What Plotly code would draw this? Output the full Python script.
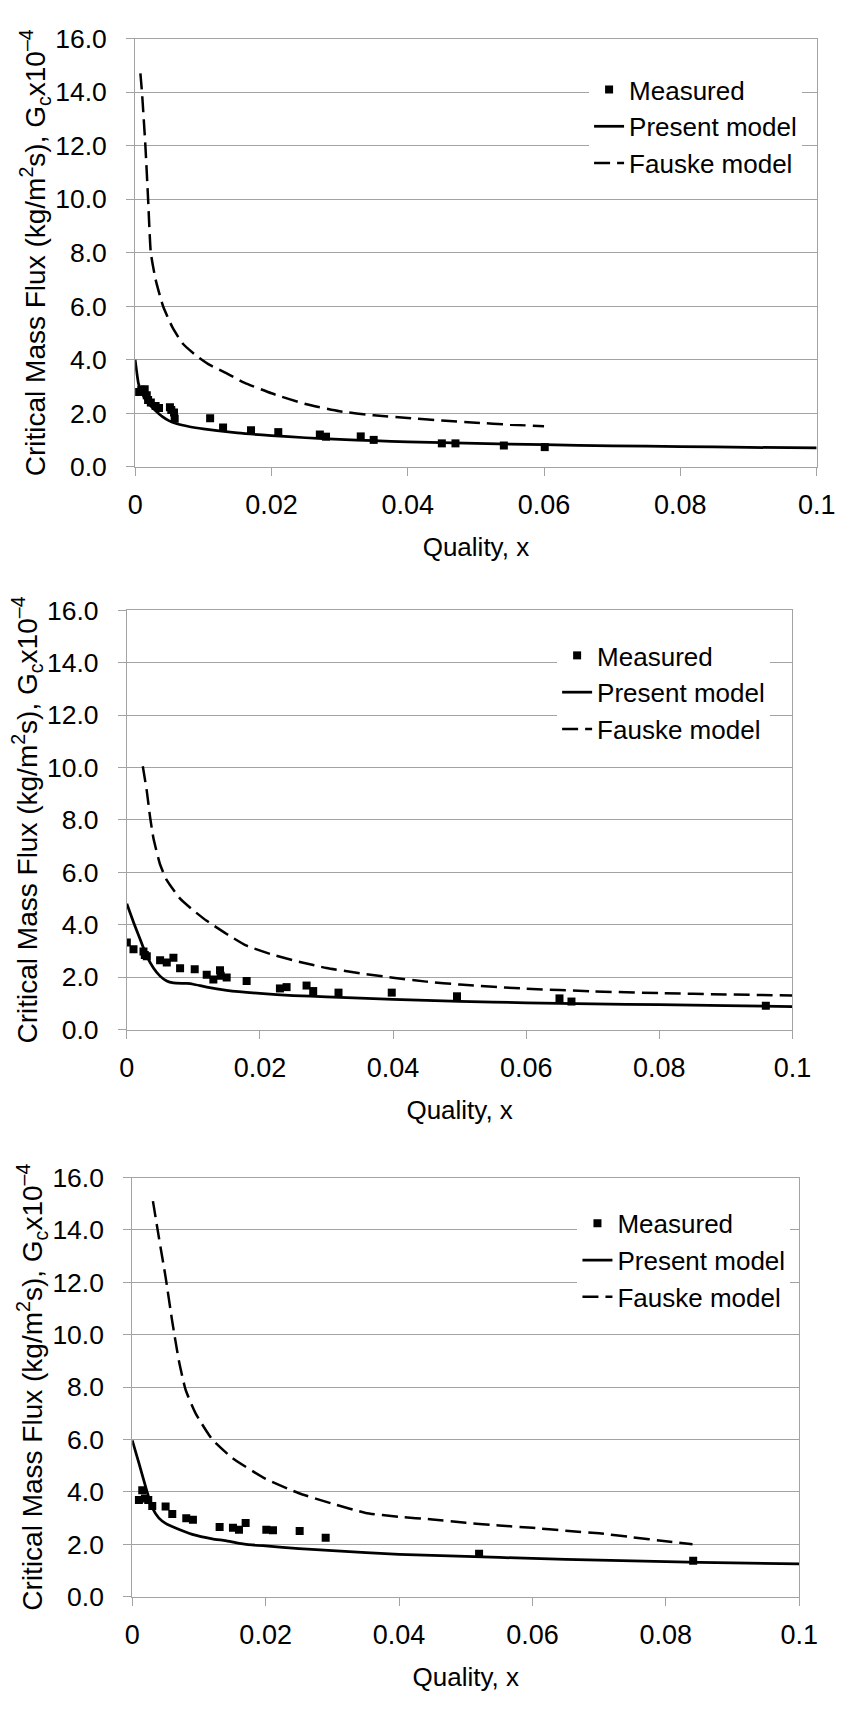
import plotly.graph_objects as go

# ---- Panel 1 ----
meas1_x = [0.0004, 0.0009, 0.0014, 0.0017, 0.0019, 0.0023, 0.0030, 0.0035, 0.0051, 0.0053,
           0.0057, 0.0058, 0.0110, 0.0129, 0.0170, 0.0210, 0.0271, 0.0280, 0.0331, 0.0350,
           0.0450, 0.0470, 0.0541, 0.0601]
meas1_y = [2.80, 2.88, 2.90, 2.68, 2.50, 2.41, 2.28, 2.20, 2.23, 2.13,
           2.03, 1.80, 1.82, 1.47, 1.37, 1.30, 1.21, 1.13, 1.14, 1.01,
           0.88, 0.88, 0.80, 0.74]
present1_x = [0.0, 0.0005, 0.001, 0.002, 0.003, 0.004, 0.005, 0.006, 0.008, 0.010, 0.015,
              0.020, 0.025, 0.030, 0.035, 0.040, 0.050, 0.060, 0.070, 0.080, 0.090, 0.100]
present1_y = [4.00, 3.10, 2.75, 2.35, 2.10, 1.88, 1.72, 1.62, 1.50, 1.42, 1.27,
              1.17, 1.09, 1.03, 0.98, 0.94, 0.88, 0.83, 0.79, 0.76, 0.73, 0.71]
fauske1_x = [0.00077, 0.0010, 0.0015, 0.0019, 0.0023, 0.0030, 0.0041, 0.0055, 0.0070, 0.0090,
             0.0110, 0.0130, 0.0160, 0.0200, 0.0250, 0.0300, 0.0350, 0.0400, 0.0450, 0.0500,
             0.0550, 0.0600]
fauske1_y = [14.7, 14.0, 12.0, 10.0, 8.0, 7.0, 6.0, 5.2, 4.6, 4.15,
             3.80, 3.55, 3.15, 2.75, 2.35, 2.08, 1.93, 1.83, 1.73, 1.65,
             1.58, 1.52]

# ---- Panel 2 ----
meas2_x = [0.0000, 0.0010, 0.0025, 0.0027, 0.0030, 0.0050, 0.0060, 0.0070, 0.0080, 0.0102,
           0.0120, 0.0130, 0.0140, 0.0141, 0.0150, 0.0180, 0.0230, 0.0240, 0.0270, 0.0280,
           0.0318, 0.0398, 0.0496, 0.0650, 0.0668, 0.0960]
meas2_y = [3.32, 3.07, 2.98, 2.85, 2.80, 2.65, 2.56, 2.74, 2.34, 2.30,
           2.09, 1.91, 2.26, 2.05, 1.99, 1.85, 1.57, 1.62, 1.68, 1.47,
           1.41, 1.41, 1.27, 1.19, 1.07, 0.91]
present2_x = [0.0, 0.001, 0.002, 0.003, 0.004, 0.005, 0.006, 0.007, 0.009, 0.010, 0.012,
              0.015, 0.020, 0.025, 0.030, 0.040, 0.050, 0.060, 0.070, 0.080, 0.090, 0.100]
present2_y = [4.80, 4.10, 3.45, 2.80, 2.35, 2.04, 1.85, 1.78, 1.76, 1.73, 1.62,
              1.50, 1.38, 1.30, 1.25, 1.15, 1.08, 1.02, 0.98, 0.95, 0.91, 0.88]
fauske2_x = [0.0024, 0.0030, 0.0035, 0.0040, 0.0050, 0.0060, 0.0080, 0.0100, 0.0120, 0.0150,
             0.0180, 0.0220, 0.0260, 0.0300, 0.0350, 0.0400, 0.0450, 0.0500, 0.0600, 0.0700,
             0.0800, 0.0900, 0.1000]
fauske2_y = [10.05, 9.1, 8.1, 7.3, 6.3, 5.7, 5.0, 4.55, 4.15, 3.65,
             3.20, 2.85, 2.58, 2.35, 2.15, 1.98, 1.83, 1.72, 1.56, 1.46,
             1.39, 1.34, 1.30]

# ---- Panel 3 ----
meas3_x = [0.0010, 0.0015, 0.0019, 0.0024, 0.0030, 0.0050, 0.0060, 0.0081, 0.0091, 0.0131,
           0.0151, 0.0160, 0.0170, 0.0201, 0.0211, 0.0251, 0.0290, 0.0520, 0.0841]
meas3_y = [3.69, 4.06, 3.75, 3.69, 3.46, 3.44, 3.16, 3.00, 2.94, 2.66,
           2.63, 2.56, 2.81, 2.56, 2.54, 2.51, 2.25, 1.64, 1.37]
present3_x = [0.0, 0.001, 0.002, 0.003, 0.004, 0.005, 0.0065, 0.009, 0.012, 0.014, 0.016,
              0.018, 0.020, 0.025, 0.030, 0.040, 0.050, 0.060, 0.070, 0.080, 0.090, 0.100]
present3_y = [5.97, 5.10, 4.20, 3.40, 3.00, 2.80, 2.62, 2.38, 2.21, 2.14, 2.04,
              1.98, 1.94, 1.84, 1.76, 1.62, 1.54, 1.46, 1.40, 1.34, 1.29, 1.25]
fauske3_x = [0.0031, 0.0040, 0.0050, 0.0060, 0.0070, 0.0080, 0.0095, 0.0120, 0.0150, 0.0200,
             0.0250, 0.0300, 0.0350, 0.0400, 0.0450, 0.0500, 0.0550, 0.0600, 0.0650, 0.0700,
             0.0750, 0.0800, 0.0840]
fauske3_y = [15.1, 13.7, 12.2, 10.5, 9.0, 7.9, 7.0, 6.0, 5.3, 4.5,
             3.95, 3.55, 3.20, 3.05, 2.95, 2.82, 2.72, 2.63, 2.52, 2.42,
             2.27, 2.12, 2.00]

SERIES_NAMES = ["Measured", "Present model", "Fauske model"]
Y_TITLE = "Critical Mass Flux (kg/m<sup>2</sup>s), G<sub>c</sub>x10<sup>\u20134</sup>"
X_TITLE = "Quality, x"

W, H = 856, 1709
FONT = "Arial, Liberation Sans, sans-serif"
GRID = "#a3a3a3"


def fy(px):
    return 1 - px / H


def fx(px):
    return px / W


# pixel frames of the three plot areas: (left, right, top, bottom)
frames = [(131.3, 835.0, 24.0, 460.0),
          (122.7, 810.0, 606.0, 1032.7),
          (128.3, 817.0, 1183.3, 1610.0)]

panels = [
    (meas1_x, meas1_y, present1_x, present1_y, fauske1_x, fauske1_y),
    (meas2_x, meas2_y, present2_x, present2_y, fauske2_x, fauske2_y),
    (meas3_x, meas3_y, present3_x, present3_y, fauske3_x, fauske3_y),
]

# legend anchor (left, top) in pixels for each panel
legend_pos = [(600, 52), (567, 628), (588, 1206)]

fig = go.Figure()
layout = dict(
    width=W, height=H,
    margin=dict(l=0, r=0, t=0, b=0),
    paper_bgcolor="white", plot_bgcolor="white",
    font=dict(family=FONT, color="black", size=25),
)

for i, (mx, my, px_, py_, fx_, fy_) in enumerate(panels):
    n = "" if i == 0 else str(i + 1)
    xa, ya = "x" + n, "y" + n
    lg = "legend" + n
    fig.add_trace(go.Scatter(
        x=mx, y=my, mode="markers", name=SERIES_NAMES[0],
        marker=dict(symbol="square", size=8, color="black"),
        xaxis=xa, yaxis=ya, legend=lg, legendgroup=f"m{i}"))
    fig.add_trace(go.Scatter(
        x=px_, y=py_, mode="lines", name=SERIES_NAMES[1],
        line=dict(color="black", width=2.75, shape="spline", smoothing=0.5),
        xaxis=xa, yaxis=ya, legend=lg, legendgroup=f"p{i}"))
    fig.add_trace(go.Scatter(
        x=fx_, y=fy_, mode="lines", name=SERIES_NAMES[2],
        line=dict(color="black", width=2.5, dash="16px,7px", shape="spline", smoothing=0.5),
        xaxis=xa, yaxis=ya, legend=lg, legendgroup=f"f{i}"))

    l, r, t, b = frames[i]
    layout["xaxis" + n] = dict(
        domain=[fx(l), fx(r)], anchor=ya, range=[0, 0.1],
        tick0=0, dtick=0.02, ticks="outside", ticklen=8, tickcolor=GRID,
        showline=True, linecolor=GRID, linewidth=1, mirror=True,
        showgrid=False, zeroline=False,
        tickfont=dict(size=27), ticklabelstandoff=6,
        title=dict(text=X_TITLE, font=dict(size=26), standoff=18),
    )
    layout["yaxis" + n] = dict(
        domain=[fy(b), fy(t)], anchor=xa, range=[0, 16],
        tick0=0, dtick=2, tickformat=".1f", ticks="outside", ticklen=8, tickcolor=GRID,
        showline=True, linecolor=GRID, linewidth=1, mirror=True,
        showgrid=True, gridcolor=GRID, gridwidth=1, zeroline=False,
        tickfont=dict(size=26.5), ticklabelstandoff=14,
        title=dict(text=Y_TITLE, font=dict(size=28), standoff=1),
    )
    lx, ly = legend_pos[i]
    layout[lg] = dict(
        x=fx(lx), y=fy(ly), xanchor="left", yanchor="top",
        bgcolor="white", borderwidth=0, font=dict(size=26),
        tracegroupgap=2, traceorder="normal",
    )

fig.update_layout(**layout)
fig.write_html("out.html")
